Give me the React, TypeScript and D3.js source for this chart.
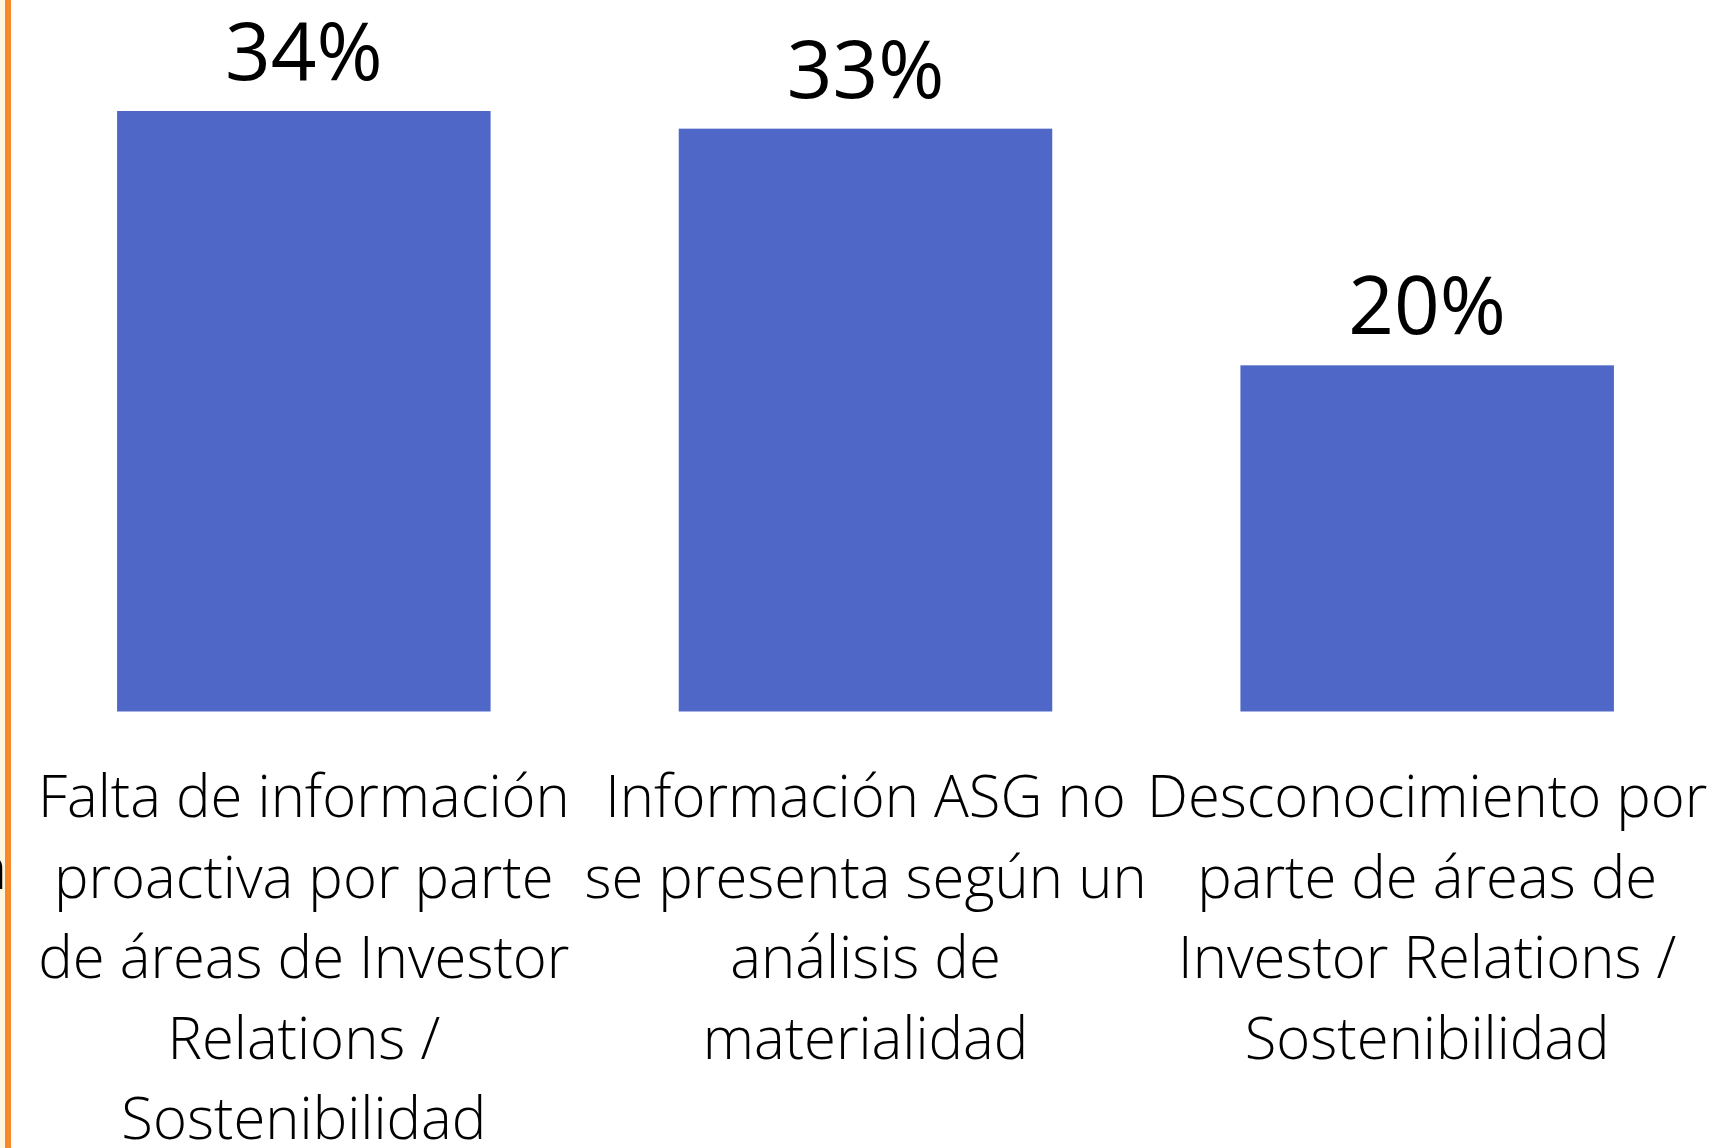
import React from 'react';
import * as d3 from 'd3';

// values, labels as shown on the slide
const categories = ['falta', 'asg', 'desconocimiento'];
const values = [0.34, 0.33, 0.196];
const categoryLines = [
  ['Falta de información', 'proactiva por parte', 'de áreas de Investor', 'Relations /', 'Sostenibilidad'],
  ['Información ASG no', 'se presenta según un', 'análisis de', 'materialidad'],
  ['Desconocimiento por', 'parte de áreas de', 'Investor Relations /', 'Sostenibilidad'],
];

const width = 1735;
const height = 1148;
const baseY = 711.5;
const topY = 111;
const barColor = '#4F68C7';

const App = () => {
  const x = d3.scaleBand()
    .domain(categories)
    .range([23, 1708])
    .paddingInner(0.335)
    .paddingOuter(0.1675);

  const y = d3.scaleLinear()
    .domain([0, d3.max(values)])
    .range([baseY, topY]);

  const fmt = d3.format('.0%');

  return (
    <svg width={width} height={height} style={{ position: 'fixed', left: 0, top: 0, background: '#fff' }}>
      {/* edge of the neighbouring panel */}
      <rect x={0} y={0} width={5} height={height} fill="#FFF2CC" opacity={0.6} />
      <text x={7} y={889} fontFamily="'Open Sans', sans-serif" fontWeight={300} fontSize={58} textAnchor="end" fill="#000">á</text>
      <rect x={5} y={0} width={6} height={height} fill="#F7892B" />

      {categories.map((c, i) => (
        <g key={c}>
          <rect
            x={x(c)}
            y={y(values[i])}
            width={x.bandwidth()}
            height={baseY - y(values[i])}
            fill={barColor}
          />
          <text
            x={x(c) + x.bandwidth() / 2}
            y={y(values[i]) - 31}
            textAnchor="middle"
            fontFamily="'Open Sans', sans-serif"
            fontSize={80}
            fill="#000"
          >
            {fmt(values[i])}
          </text>
          {categoryLines[i].map((line, j) => (
            <text
              key={j}
              x={x(c) + x.bandwidth() / 2}
              y={817 + j * 80.6}
              textAnchor="middle"
              fontFamily="'Open Sans', sans-serif"
              fontWeight={300}
              fontSize={58}
              fill="#000"
            >
              {line}
            </text>
          ))}
        </g>
      ))}
    </svg>
  );
};

export default App;
